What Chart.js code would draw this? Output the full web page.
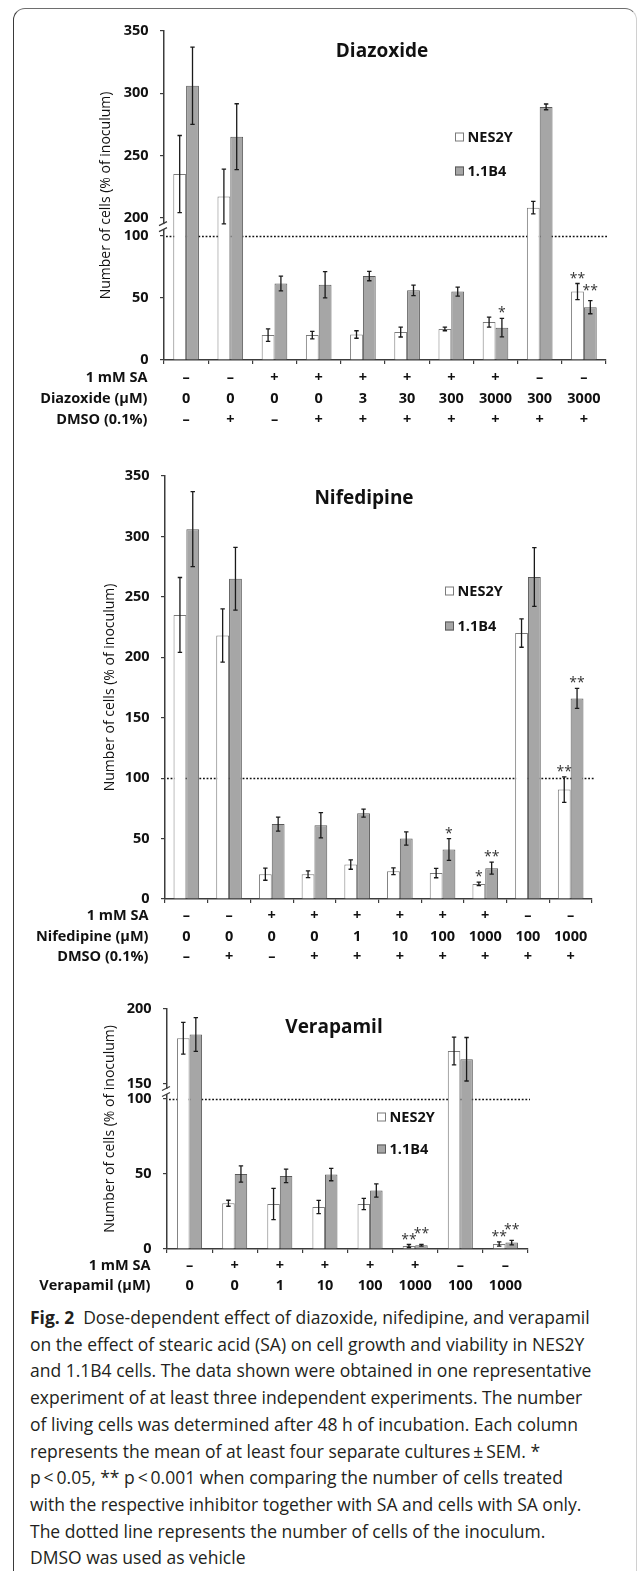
<!DOCTYPE html>
<html>
<head>
<meta charset="utf-8">
<script src="https://cdn.jsdelivr.net/npm/chart.js@4.4.1/dist/chart.umd.min.js"></script>
<style>
  body { margin: 0; background: #fff; }
  #page { position: relative; width: 637px; height: 1571px; overflow: hidden; }
  #frame { position: absolute; left: 13px; top: 8px; width: 624px; height: 1600px; box-sizing: border-box;
           border-top: 1.5px solid #6e6e6e; border-left: 1.5px solid #3a3a3a; border-right: 1px solid #d0d0d0;
           border-radius: 12px 12px 0 0; }
  canvas { position: absolute; left: 0; }
  #caption { position: absolute; left: 30px; top: 1304px; font-family: 'Open Sans', sans-serif; font-size: 17.5px;
             line-height: 26.7px; color: #231f20; white-space: nowrap; }
</style>
</head>
<body>
<div id="page">
  <div id="frame"></div>
  <canvas id="c1" width="637" height="440" style="top:0px"></canvas>
  <canvas id="c2" width="637" height="530" style="top:440px"></canvas>
  <canvas id="c3" width="637" height="330" style="top:970px"></canvas>
  <div id="caption"><b>Fig. 2</b>&ensp;Dose-dependent effect of diazoxide, nifedipine, and verapamil<br>on the effect of stearic acid (SA) on cell growth and viability in NES2Y<br>and 1.1B4 cells. The data shown were obtained in one representative<br>experiment of at least three independent experiments. The number<br>of living cells was determined after 48 h of incubation. Each column<br>represents the mean of at least four separate cultures&thinsp;±&thinsp;SEM. *<br>p&thinsp;&lt;&thinsp;0.05, ** p&thinsp;&lt;&thinsp;0.001 when comparing the number of cells treated<br>with the respective inhibitor together with SA and cells with SA only.<br>The dotted line represents the number of cells of the inoculum.<br>DMSO was used as vehicle</div>
</div>
<script>
const cellLines = ['NES2Y', '1.1B4'];

// Diazoxide
const dzSA     = ['–','–','+','+','+','+','+','+','–','–'];
const dzDose   = ['0','0','0','0','3','30','300','3000','300','3000'];
const dzDMSO   = ['–','+','–','+','+','+','+','+','+','+'];
const dzNes    = [235, 217, 20, 20, 20.5, 22.5, 25, 30.5, 208, 55];
const dzNesSem = [31, 22, 5, 3, 3, 4, 1.5, 4, 5, 6.5];
const dzB4     = [306, 265, 61.5, 60.5, 67.5, 56, 55, 26, 289, 42.5];
const dzB4Sem  = [31, 26.5, 6, 10.5, 3.8, 4.2, 3.6, 7.4, 2.3, 5.3];
const dzNesSig = ['','','','','','','','','','**'];
const dzB4Sig  = ['','','','','','','','*','','**'];
const dzTicks  = [0, 50, 100, 200, 250, 300, 350];

// Nifedipine
const nfSA     = ['–','–','+','+','+','+','+','+','–','–'];
const nfDose   = ['0','0','0','0','1','10','100','1000','100','1000'];
const nfDMSO   = ['–','+','–','+','+','+','+','+','+','+'];
const nfNes    = [235, 218, 20.5, 20.5, 28.5, 23, 21.5, 12.5, 220, 90.5];
const nfNesSem = [31, 22, 5, 2.8, 3.9, 2.8, 3.9, 1.4, 11.7, 10.6];
const nfB4     = [306, 265, 62, 61, 71, 50, 41, 25.5, 266.5, 166];
const nfB4Sem  = [31, 26, 5.8, 10.5, 3.3, 5.5, 9, 5, 24.3, 8.3];
const nfNesSig = ['','','','','','','','*','','**'];
const nfB4Sig  = ['','','','','','','*','**','','**'];
const nfTicks  = [0, 50, 100, 150, 200, 250, 300, 350];

// Verapamil
const vpSA     = ['–','+','+','+','+','+','–','–'];
const vpDose   = ['0','0','1','10','100','1000','100','1000'];
const vpNes    = [180.5, 30.5, 30, 28, 30, 2, 172, 3.3];
const vpNesSem = [10.6, 2, 10.4, 4.4, 3.7, 1, 9.2, 1.4];
const vpB4     = [183, 50, 48.7, 49.6, 39, 2.5, 166.5, 4.3];
const vpB4Sem  = [11.2, 5.4, 4.5, 4.1, 4.4, 0.6, 14.5, 1.5];
const vpNesSig = ['','','','','','**','','**'];
const vpB4Sig  = ['','','','','','**','','**'];
const vpTicks  = [0, 50, 100, 150, 200];

const FONT = "'Open Sans', sans-serif";
const INK = '#111';
const AXIS = '#3c3c3c';

// broken y axis: values above brk.low are shifted down so brk.high sits brk.gap units above brk.low
function axisMap(brk) {
  if (!brk) return { to: v => v, from: v => v };
  const shift = brk.high - brk.low - brk.gap;
  return {
    to: v => v > brk.low ? Math.max(brk.low, v - shift) : v,
    from: v => v > brk.low ? Math.round(v + shift) : Math.round(v)
  };
}

function decor(p, map) {
  const errTop = (chart, d, i) => {
    const ds = chart.data.datasets[d];
    return chart.scales.y.getPixelForValue(map.to(ds.mean[i] + ds.sem[i]));
  };
  return {
    id: 'decor',
    beforeDatasetsDraw(chart) {
      const { ctx, chartArea: a, scales: { y } } = chart;
      const yy = Math.round(y.getPixelForValue(100)) + 0.5;
      ctx.save();
      ctx.strokeStyle = INK;
      ctx.lineWidth = 1.6;
      ctx.setLineDash([1.8, 1.8]);
      ctx.beginPath();
      ctx.moveTo(a.left + 2, yy);
      ctx.lineTo(a.right + 2, yy);
      ctx.stroke();
      ctx.restore();
    },
    afterDatasetsDraw(chart) {
      const { ctx, scales: { y } } = chart;
      const sets = chart.data.datasets;
      ctx.save();
      sets.forEach((ds, d) => {
        chart.getDatasetMeta(d).data.forEach((bar, i) => {
          const yt = errTop(chart, d, i);
          const yb = y.getPixelForValue(map.to(ds.mean[i] - ds.sem[i]));
          ctx.strokeStyle = '#1a1a1a';
          ctx.lineWidth = 1.3;
          ctx.beginPath();
          ctx.moveTo(bar.x, yt); ctx.lineTo(bar.x, yb);
          ctx.moveTo(bar.x - 2.2, yt); ctx.lineTo(bar.x + 2.2, yt);
          ctx.moveTo(bar.x - 2.2, yb); ctx.lineTo(bar.x + 2.2, yb);
          ctx.stroke();
          const s = ds.sig[i];
          if (s) {
            let lift = 9;
            const other = sets[1 - d];
            if (d === 1 && other.sig[i] && Math.abs(errTop(chart, 0, i) - yt) < 18) lift += 5;
            ctx.fillStyle = '#333';
            ctx.font = '14px ' + FONT;
            ctx.textAlign = 'center';
            ctx.textBaseline = 'alphabetic';
            ctx.fillText(s, bar.x, yt - lift + 8);
          }
        });
      });
      ctx.restore();
    },
    afterDraw(chart) {
      const { ctx, chartArea: a, scales: { x, y } } = chart;
      ctx.save();
      // title
      ctx.fillStyle = INK;
      ctx.font = 'bold 19px ' + FONT;
      ctx.textAlign = 'center';
      ctx.textBaseline = 'middle';
      ctx.fillText(p.title, p.titleX, p.titleY - p.top);
      // legend
      ctx.font = 'bold 14.5px ' + FONT;
      ctx.textAlign = 'left';
      chart.data.datasets.forEach((ds, d) => {
        const ly = p.legendY[d] - p.top;
        ctx.fillStyle = ds.backgroundColor;
        ctx.fillRect(p.legendX, ly - 4.5, 9, 9);
        ctx.strokeStyle = ds.borderColor;
        ctx.lineWidth = 1;
        ctx.strokeRect(p.legendX + 0.5, ly - 4, 8, 8);
        ctx.fillStyle = INK;
        ctx.fillText(ds.label, p.legendX + 12.5, ly + 0.5);
      });
      // row headers of the treatment table
      ctx.textAlign = 'right';
      const base = x.top + 4 + 3 + p.rowLH / 2;
      p.rows.forEach((r, i) => ctx.fillText(r, a.left - 16.5, base + i * p.rowLH));
      // axis break mark
      if (p.brk) {
        const ym = y.getPixelForValue(p.brk.low + p.brk.gap / 2);
        ctx.fillStyle = '#fff';
        ctx.fillRect(a.left - 2, ym - 2.5, 4, 5);
        ctx.strokeStyle = AXIS;
        ctx.lineWidth = 1.2;
        ctx.beginPath();
        ctx.moveTo(a.left - 5, ym - 1); ctx.lineTo(a.left + 3, ym - 5);
        ctx.moveTo(a.left - 5, ym + 5); ctx.lineTo(a.left + 3, ym + 1);
        ctx.stroke();
      }
      ctx.restore();
    }
  };
}

function makePanel(p) {
  const map = axisMap(p.brk);
  const tickFont = { family: FONT, size: 14.5, weight: 'bold', lineHeight: p.rowLH / 14.5 };
  new Chart(document.getElementById(p.id), {
    type: 'bar',
    data: {
      labels: p.dose.map((d, i) => p.dmso ? [p.sa[i], d, p.dmso[i]] : [p.sa[i], d]),
      datasets: [
        { label: cellLines[0], data: p.nes.map(map.to), mean: p.nes, sem: p.nesSem, sig: p.nesSig,
          backgroundColor: '#ffffff', borderColor: '#7a7a7a', borderWidth: 1 },
        { label: cellLines[1], data: p.b4.map(map.to), mean: p.b4, sem: p.b4Sem, sig: p.b4Sig,
          backgroundColor: '#a6a6a6', borderColor: '#5a5a5a', borderWidth: 1 }
      ]
    },
    options: {
      responsive: false,
      animation: false,
      layout: { padding: { top: p.plotTop - p.top, right: 637 - p.right, left: 0, bottom: 0 } },
      datasets: { bar: { barPercentage: 1, categoryPercentage: p.cat } },
      plugins: { legend: { display: false }, tooltip: { enabled: false } },
      scales: {
        x: {
          offset: true,
          afterFit: s => { s.height = p.height - (p.plotBottom - p.top); },
          grid: { display: true, drawOnChartArea: false, offset: true, tickLength: 4, color: AXIS, lineWidth: 1.2 },
          border: { color: AXIS, width: 1.5 },
          ticks: { color: INK, font: tickFont, padding: 3, maxRotation: 0, autoSkip: false }
        },
        y: {
          min: 0,
          max: map.to(p.ticks[p.ticks.length - 1]),
          afterFit: s => { s.width = p.left; },
          afterBuildTicks: s => { s.ticks = p.ticks.map(v => ({ value: map.to(v) })); },
          grid: { display: true, drawOnChartArea: false, tickLength: 4, color: AXIS, lineWidth: 1.2 },
          border: { color: AXIS, width: 1.5 },
          ticks: { color: INK, font: { family: FONT, size: 14.5, weight: 'bold' }, padding: 11.5, autoSkip: false,
                   callback: v => String(map.from(v)) },
          title: { display: true, text: 'Number of cells (% of inoculum)', color: INK,
                   font: { family: FONT, size: 14 }, padding: { top: p.yTitleX - 8.4, bottom: 0 } }
        }
      }
    },
    plugins: [decor(p, map)]
  });
}

makePanel({
  id: 'c1', top: 0, height: 440, left: 164, right: 606, plotTop: 31, plotBottom: 360, cat: 0.58,
  brk: { low: 100, high: 200, gap: 14.5 }, ticks: dzTicks, yTitleX: 106,
  title: 'Diazoxide', titleX: 382, titleY: 52, legendX: 455, legendY: [137, 171],
  rows: ['1 mM SA', 'Diazoxide (µM)', 'DMSO (0.1%)'], rowLH: 21,
  sa: dzSA, dose: dzDose, dmso: dzDMSO,
  nes: dzNes, nesSem: dzNesSem, nesSig: dzNesSig, b4: dzB4, b4Sem: dzB4Sem, b4Sig: dzB4Sig
});

makePanel({
  id: 'c2', top: 440, height: 530, left: 165, right: 592, plotTop: 476, plotBottom: 899, cat: 0.6,
  brk: null, ticks: nfTicks, yTitleX: 110,
  title: 'Nifedipine', titleX: 364, titleY: 499, legendX: 445, legendY: [591, 626],
  rows: ['1 mM SA', 'Nifedipine (µM)', 'DMSO (0.1%)'], rowLH: 20.5,
  sa: nfSA, dose: nfDose, dmso: nfDMSO,
  nes: nfNes, nesSem: nfNesSem, nesSig: nfNesSig, b4: nfB4, b4Sem: nfB4Sem, b4Sig: nfB4Sig
});

makePanel({
  id: 'c3', top: 970, height: 330, left: 167, right: 528, plotTop: 1009, plotBottom: 1249, cat: 0.555,
  brk: { low: 100, high: 150, gap: 10 }, ticks: vpTicks, yTitleX: 110,
  title: 'Verapamil', titleX: 334, titleY: 1028, legendX: 377, legendY: [1117, 1149],
  rows: ['1 mM SA', 'Verapamil (µM)'], rowLH: 20,
  sa: vpSA, dose: vpDose, dmso: null,
  nes: vpNes, nesSem: vpNesSem, nesSig: vpNesSig, b4: vpB4, b4Sem: vpB4Sem, b4Sig: vpB4Sig
});
</script>
</body>
</html>
